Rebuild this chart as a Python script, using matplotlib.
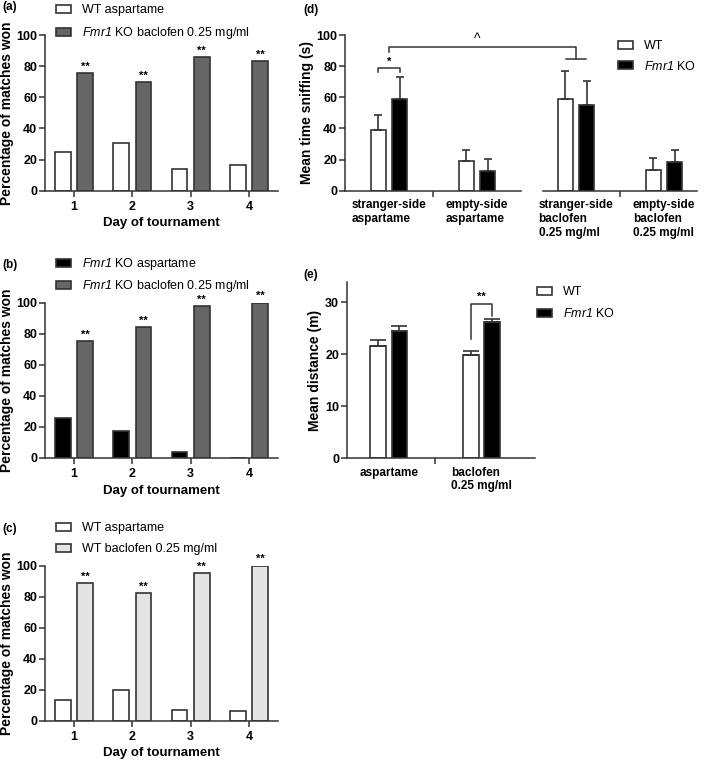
import numpy as np
import matplotlib
matplotlib.use("Agg")
import matplotlib.pyplot as plt

plt.rcParams['font.family'] = 'Liberation Sans'
plt.rcParams['axes.labelweight'] = 'bold'
# mathtext is used only for the italic gene name, digits included
plt.rcParams['mathtext.fontset'] = 'custom'
plt.rcParams['mathtext.it'] = 'Liberation Sans:italic'
plt.rcParams['mathtext.rm'] = 'Liberation Sans:italic'

# Panels a-c: percentage of matches won per day
days = [1, 2, 3, 4]
a_wt_asp = [25, 30.5, 14, 16.7]
a_ko_bac = [75.5, 69.5, 86, 83.3]
b_ko_asp = [25.6, 17.4, 3.6, 0]
b_ko_bac = [75.5, 84.1, 98, 100]
c_wt_asp = [13.3, 19.5, 7.2, 6.2]
c_wt_bac = [88.6, 82.5, 95, 100]

# Panel d: mean time sniffing
d_groups = ["stranger-side\naspartame", "empty-side\naspartame",
            "stranger-side\nbaclofen\n0.25 mg/ml", "empty-side\nbaclofen\n0.25 mg/ml"]
d_pos = [0, 1, 2.125, 3.125]
d_wt = [39, 19, 59, 13.5]
d_wt_err = [9.5, 7, 18, 7.5]
d_ko = [59, 12.4, 55, 18.6]
d_ko_err = [14, 8.2, 15.5, 7.7]

# Panel e: mean distance
e_groups = ["aspartame", "baclofen\n0.25 mg/ml"]
e_pos = [0, 1]
e_wt = [21.7, 19.8]
e_wt_err = [1.1, 0.9]
e_ko = [24.5, 26.2]
e_ko_err = [0.9, 0.7]

KO = r'$Fmr1$ KO'
EDGE = '#333333'
W, H = 709, 760

fig = plt.figure(figsize=(W / 100, H / 100), dpi=100)


def place(x0, x1, ytop, ybot):
    return fig.add_axes([x0 / W, 1 - ybot / H, (x1 - x0) / W, (ybot - ytop) / H])


def style(ax):
    for s in ['top', 'right']:
        ax.spines[s].set_visible(False)
    for s in ['left', 'bottom']:
        ax.spines[s].set_linewidth(1.1)
        ax.spines[s].set_color(EDGE)
    ax.tick_params(direction='out', length=4, width=1.1, color=EDGE, labelsize=9)
    ax.tick_params(axis='y', pad=1.5)


def bold_ticks(ax):
    for t in ax.get_xticklabels() + ax.get_yticklabels():
        t.set_fontweight('bold')


def legend_at(ax, x_px, ytop_px, spacing):
    h, l = ax.get_legend_handles_labels()
    fig.legend(h, l, loc='upper left', bbox_to_anchor=(x_px / W, 1 - ytop_px / H),
               frameon=False, borderpad=0, borderaxespad=0, handlelength=1.2,
               handleheight=0.62, handletextpad=0.9, labelspacing=spacing,
               prop={'size': 9})


def tournament(ax, left, right, lcol, rcol, llab, rlab):
    x = np.array(days)
    ax.bar(x - 0.19, left, 0.27, color=lcol, edgecolor=EDGE, linewidth=1.2, label=llab)
    ax.bar(x + 0.19, right, 0.27, color=rcol, edgecolor=EDGE, linewidth=1.2, label=rlab)
    for xi, v in zip(x, right):
        ax.annotate('**', (xi + 0.19, v), xytext=(0, 1), textcoords='offset points',
                    ha='center', va='bottom', fontsize=8, fontweight='bold')
    style(ax)
    ax.set_xlim(0.5, 4.5)
    ax.set_ylim(0, 100)
    ax.set_xticks(days)
    ax.set_yticks(range(0, 101, 20))
    bold_ticks(ax)
    ax.set_ylabel('Percentage of matches won', fontsize=10, labelpad=2)
    ax.set_xlabel('Day of tournament', fontsize=9.5, labelpad=3)


ax_a = place(45, 278, 35, 190.7)
tournament(ax_a, a_wt_asp, a_ko_bac, 'white', '#666666', 'WT aspartame', KO + ' baclofen 0.25 mg/ml')
legend_at(ax_a, 56, 4, 0.75)

ax_b = place(45, 278, 302.7, 458)
tournament(ax_b, b_ko_asp, b_ko_bac, 'black', '#666666', KO + ' aspartame', KO + ' baclofen 0.25 mg/ml')
legend_at(ax_b, 56, 256, 0.5)

ax_c = place(45, 278, 565.7, 720.7)
tournament(ax_c, c_wt_asp, c_wt_bac, 'white', '#e4e4e4', 'WT aspartame', 'WT baclofen 0.25 mg/ml')
legend_at(ax_c, 56, 522, 0.72)


def grouped(ax, pos, wt, wt_err, ko, ko_err, off, width, cap):
    pos = np.array(pos)
    ax.bar(pos - off, wt, width, color='white', edgecolor=EDGE, linewidth=1.2, label='WT')
    ax.bar(pos + off, ko, width, color='black', edgecolor=EDGE, linewidth=1.2, label=KO)
    ax.errorbar(pos - off, wt, yerr=[np.zeros(len(wt)), wt_err], fmt='none', ecolor=EDGE,
                elinewidth=1.2, capsize=cap, capthick=1.2, zorder=3)
    ax.errorbar(pos + off, ko, yerr=[np.zeros(len(ko)), ko_err], fmt='none', ecolor=EDGE,
                elinewidth=1.2, capsize=cap, capthick=1.2, zorder=3)


def bracket(ax, x0, x1, y, y0, y1):
    ax.plot([x0, x0, x1, x1], [y0, y, y, y1], color=EDGE, lw=1.1, clip_on=False)


# Panel d
ax_d = place(345, 697, 35, 190.7)
grouped(ax_d, d_pos, d_wt, d_wt_err, d_ko, d_ko_err, 0.12, 0.18, 3)
style(ax_d)
ax_d.set_xlim(-0.5, 3.5)
ax_d.set_ylim(0, 100)
ax_d.set_yticks(range(0, 101, 20))
ax_d.set_xticks(d_pos, labels=d_groups, fontsize=8.5)
ax_d.set_xticks([0.5, 2.625], minor=True)
ax_d.tick_params(axis='x', which='major', length=0, pad=6)
ax_d.tick_params(axis='x', which='minor', length=4, width=1.1, color=EDGE)
for t in ax_d.get_xticklabels():
    t.set_multialignment('left')
bold_ticks(ax_d)
ax_d.spines['bottom'].set_visible(False)
ax_d.plot([-0.5, 1.5], [0, 0], color=EDGE, lw=1.1, clip_on=False)
ax_d.plot([1.75, 3.5], [0, 0], color=EDGE, lw=1.1, clip_on=False)
ax_d.set_ylabel('Mean time sniffing (s)', fontsize=10, labelpad=2)
bracket(ax_d, -0.12, 0.12, 78.8, 76.4, 76.4)
ax_d.text(0, 79.5, '*', ha='center', va='bottom', fontsize=8, fontweight='bold')
bracket(ax_d, 0, 2.125, 92.5, 89.3, 84.4)
ax_d.plot([2.01, 2.24], [84.4, 84.4], color=EDGE, lw=1.1, clip_on=False)
ax_d.text(1.0, 93.2, '^', ha='center', va='bottom', fontsize=10)
legend_at(ax_d, 618, 40, 0.62)

# Panel e
ax_e = place(346.7, 535, 281.7, 458.3)
grouped(ax_e, e_pos, e_wt, e_wt_err, e_ko, e_ko_err, 0.115, 0.17, 5.5)
style(ax_e)
ax_e.set_xlim(-0.455, 1.58)
ax_e.set_ylim(0, 34)
ax_e.set_yticks([0, 10, 20, 30])
ax_e.set_xticks(e_pos, labels=e_groups, fontsize=8.5)
ax_e.set_xticks([0.5], minor=True)
ax_e.tick_params(axis='x', which='major', length=0, pad=6)
ax_e.tick_params(axis='x', which='minor', length=4, width=1.1, color=EDGE)
for t in ax_e.get_xticklabels():
    t.set_multialignment('left')
bold_ticks(ax_e)
ax_e.set_ylabel('Mean distance (m)', fontsize=10, labelpad=2)
bracket(ax_e, 1 - 0.115, 1 + 0.115, 29.8, 22.9, 27.4)
ax_e.text(1, 30.1, '**', ha='center', va='bottom', fontsize=8, fontweight='bold')
legend_at(ax_e, 537, 286, 0.72)

# Panel letters
for lbl, x, y in [('(a)', 2, 7), ('(b)', 2, 265), ('(c)', 2, 529),
                  ('(d)', 303, 10), ('(e)', 303, 275)]:
    fig.text(x / W, 1 - y / H, lbl, fontsize=8.5, fontweight='bold', va='center', ha='left')

fig.savefig('out.png', dpi=100)
